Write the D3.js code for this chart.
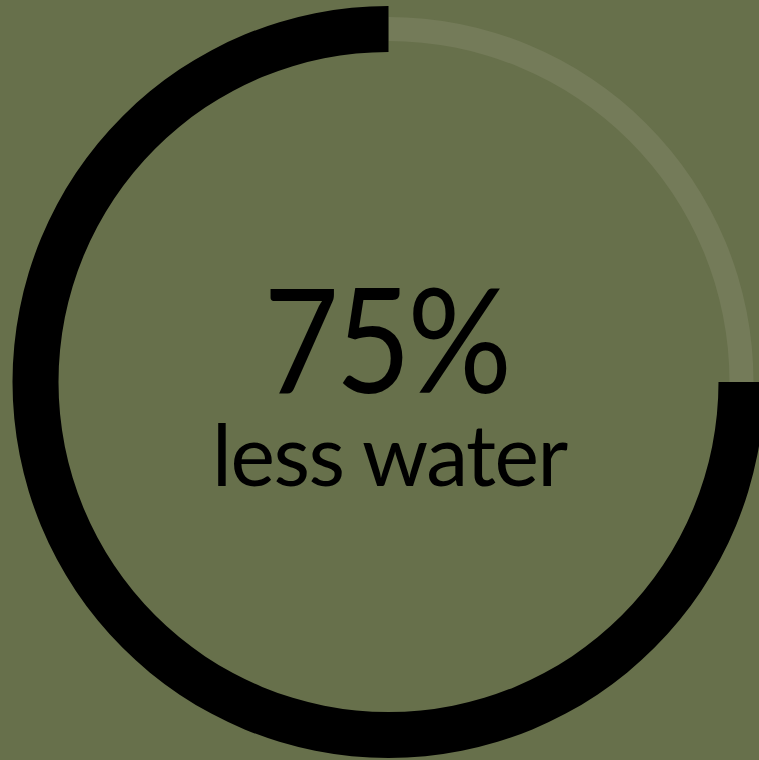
<!DOCTYPE html>
<html>
<head>
<meta charset="utf-8">
<script src="https://cdn.jsdelivr.net/npm/d3@7"></script>
<style>
html,body{margin:0;padding:0;background:#67704b;overflow:hidden;}
svg{display:block;}
</style>
</head>
<body>
<svg id="chart" width="759" height="760"></svg>
<script>
// Data
const percentValue = [75];
const totalValue = [100];
const valueLabels = ["75%"];
const captionLabels = ["less water"];

const W = 759, H = 760;
const cx = 388.5, cy = 382;
const outerR = 376, innerR = 330;
const trackOuter = 365, trackInner = 341;

const svg = d3.select("#chart");
svg.append("rect").attr("width", W).attr("height", H).attr("fill", "#67704b");

const angle = d3.scaleLinear().domain([0, totalValue[0]]).range([0, 2 * Math.PI]);

const g = svg.append("g").attr("transform", `translate(${cx},${cy})`);

// remaining track (light)
const track = d3.arc().innerRadius(trackInner).outerRadius(trackOuter);
g.append("path")
  .attr("d", track({startAngle: angle(0), endAngle: angle(totalValue[0] - percentValue[0])}))
  .attr("fill", "#747b59");

// value arc (black), ending at 12 o'clock, running counter-clockwise
const arc = d3.arc().innerRadius(innerR).outerRadius(outerR);
g.append("path")
  .attr("d", arc({startAngle: angle(totalValue[0] - percentValue[0]), endAngle: angle(totalValue[0])}))
  .attr("fill", "#000");

// condense text horizontally to match the narrower face of the reference
function fitText(sel, targetWidth, centerX, ls) {
  sel.attr("letter-spacing", ls);
  const bb = sel.node().getBBox();
  const s = targetWidth / bb.width;
  const mid = bb.x + bb.width / 2;
  sel.attr("transform", `translate(${centerX},0) scale(${s},1) translate(${-mid},0)`);
}

const t1 = g.append("text")
  .attr("x", 0).attr("y", 393 - cy)
  .attr("text-anchor", "middle")
  .attr("font-family", "Lato")
  .attr("font-size", 145)
  .attr("fill", "#000")
  .text(valueLabels[0]);

const t2 = g.append("text")
  .attr("x", 0).attr("y", 486 - cy)
  .attr("text-anchor", "middle")
  .attr("font-family", "Lato")
  .attr("font-size", 86)
  .attr("fill", "#000")
  .text(captionLabels[0]);

fitText(t1, 245, -2.5, -4);
fitText(t2, 356, 1.5, -1.5);
</script>
</body>
</html>
